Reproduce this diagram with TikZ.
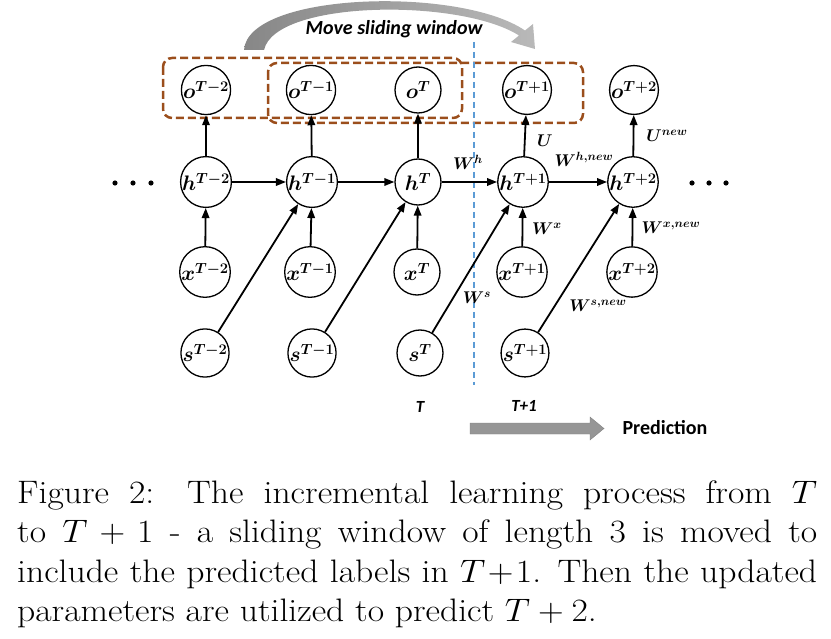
\RequirePackage{fix-cm}
\documentclass[tikz,border=0pt]{standalone}
\usepackage{fontspec}
\usepackage{bm}
\usepackage{graphicx}
\newfontfamily\carlito{Carlito}
\usetikzlibrary{arrows.meta}
\definecolor{winbrown}{RGB}{155,78,28}
\definecolor{sepblue}{RGB}{91,155,213}
\definecolor{movegray}{RGB}{150,150,150}
\definecolor{movegrayd}{RGB}{135,135,135}
\definecolor{movegrayl}{RGB}{185,185,185}
\begin{document}
\begin{tikzpicture}[x=1pt,y=-1pt,
  rnn/.style={circle,draw,line width=1.3pt,fill=white,minimum size=46pt,inner sep=0pt,font=\fontsize{21}{23}\selectfont},
  arr/.style={line width=1.8pt,-{Triangle[length=10pt,width=7.5pt]}},
  lab/.style={inner sep=0pt,font=\fontsize{17}{19}\selectfont},
  win/.style={draw=winbrown,line width=2.5pt,dash pattern=on 8pt off 4pt,rounded corners=9pt},
  sep/.style={draw=sepblue,line width=2.2pt,dash pattern=on 6pt off 4pt},
  dotfill/.style={fill=black},
  sanslab/.style={inner sep=0pt,font=\carlito\bfseries\itshape\fontsize{20}{22}\selectfont}]
\useasboundingbox (0,0) rectangle (831,639);
% sliding windows
\draw[win] (163,58) rectangle (462,118);
\draw[win] (268,63) rectangle (583,123);
% separator
\coordinate (septop) at (474,42);
\coordinate (sepbot) at (474,385);
\draw[sep] (septop) -- (sepbot);
% move arrow
\shade[left color=movegrayd,right color=movegrayl] (244,50) .. controls (248,-8) and (460,-14) .. (525,30.5) -- (533,24) -- (535,49) -- (511,42) -- (519,35.5) .. controls (460,-2) and (275,0) .. (264,50) -- cycle;
\node[sanslab] (movetxt) at (394,29) {Move sliding window};
% nodes
\node[rnn] (o2) at (206,90) {$\bm{o^{T-2}}$};
\node[rnn] (o1) at (311,90) {$\bm{o^{T-1}}$};
\node[rnn] (o0) at (418,90) {$\bm{o^{T}}$};
\node[rnn] (op1) at (527,90) {$\bm{o^{T+1}}$};
\node[rnn] (op2) at (634,90) {$\bm{o^{T+2}}$};
\node[rnn] (h2) at (206,182) {$\bm{h^{T-2}}$};
\node[rnn] (h1) at (312,182) {$\bm{h^{T-1}}$};
\node[rnn] (h0) at (418,182) {$\bm{h^{T}}$};
\node[rnn] (hp1) at (523,182) {$\bm{h^{T+1}}$};
\node[rnn] (hp2) at (633,182) {$\bm{h^{T+2}}$};
\node[rnn] (x2) at (205,272) {$\bm{x^{T-2}}$};
\node[rnn] (x1) at (310,272) {$\bm{x^{T-1}}$};
\node[rnn] (x0) at (417,272) {$\bm{x^{T}}$};
\node[rnn] (xp1) at (522,272) {$\bm{x^{T+1}}$};
\node[rnn] (xp2) at (632,272) {$\bm{x^{T+2}}$};
\node[rnn] (s2) at (205,353) {$\bm{s^{T-2}}$};
\node[rnn] (s1) at (312,353) {$\bm{s^{T-1}}$};
\node[rnn] (s0) at (420,353) {$\bm{s^{T}}$};
\node[rnn] (sp1) at (525,353) {$\bm{s^{T+1}}$};
% arrows
\foreach \a/\b in {h2/o2,h1/o1,h0/o0,hp1/op1,hp2/op2,x2/h2,x1/h1,x0/h0,xp1/hp1,xp2/hp2,h2/h1,h1/h0,h0/hp1,hp1/hp2,s2/h1,s1/h0,s0/hp1,sp1/hp2}
  \draw[arr] (\a) -- (\b);
% dots
\foreach \x in {115,133,151} \fill[dotfill] (\x,183) circle (2.6pt);
\foreach \x in {692,709,726} \fill[dotfill] (\x,183) circle (2.6pt);
% labels
\node[lab] (lWh) at (468,162) {$\bm{W^{h}}$};
\node[lab] (lU) at (545,141) {$\bm{U}$};
\node[lab] (lWhn) at (584,159) {$\bm{W^{h,new}}$};
\node[lab] (lUn) at (667,136) {$\bm{U^{new}}$};
\node[lab] (lWx) at (547,229) {$\bm{W^{x}}$};
\node[lab] (lWxn) at (671,228) {$\bm{W^{x,new}}$};
\node[lab] (lWs) at (477,298) {$\bm{W^{s}}$};
\node[lab] (lWsn) at (598,306) {$\bm{W^{s,new}}$};
% time labels
\node[inner sep=0pt,font=\carlito\bfseries\itshape\fontsize{17}{19}\selectfont] (tT) at (420,407) {T};
\node[inner sep=0pt,font=\carlito\bfseries\itshape\fontsize{17}{19}\selectfont] (tT1) at (524,406) {T+1};
% prediction arrow
\fill[movegray,draw=gray] (470,423) -- (590,423) -- (590,417) -- (604,428.5) -- (590,440) -- (590,434) -- (470,434) -- cycle;
\node[inner sep=0pt,font=\carlito\bfseries\fontsize{20}{22}\selectfont] (pred) at (665,428) {Prediction};
% caption
\node[anchor=north west,inner sep=0pt] (cap) at (17,480)
{\scalebox{1.095}[1]{\begin{minipage}[t]{730.6pt}\fontsize{32.5}{39.5}\selectfont\noindent
Figure 2: The incremental learning process from $T$\linebreak to $T+1$ - a sliding window of length 3 is moved to\linebreak include the predicted labels in $T\!+\!1$. Then the updated\linebreak parameters are utilized to predict $T+2$.\end{minipage}}};
\end{tikzpicture}
\end{document}
